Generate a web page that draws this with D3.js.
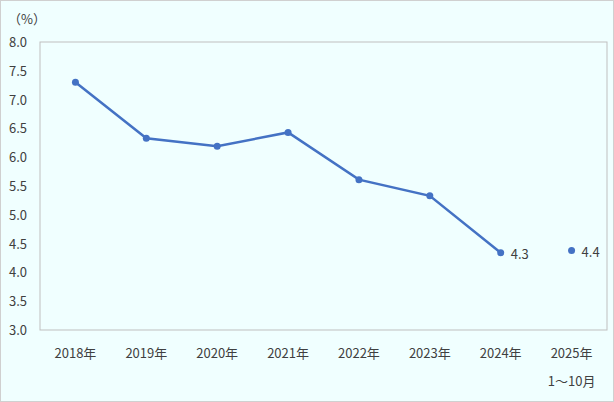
<!DOCTYPE html><html><head><meta charset="utf-8"><script src="https://cdn.jsdelivr.net/npm/d3@7"></script>
<style>body{margin:0;background:#fff}</style></head><body><svg id="c" width="614" height="402"></svg>
<script>
const categories=["2018年","2019年","2020年","2021年","2022年","2023年","2024年","2025年"];
const values=[7.3,6.33,6.19,6.43,5.61,5.33,4.34,4.38];
const yTicks=[3.0,3.5,4.0,4.5,5.0,5.5,6.0,6.5,7.0,7.5,8.0];
const labels=[null,null,null,null,null,null,"4.3","4.4"];
const svg=d3.select("#c");
svg.append("rect").attr("x",0.5).attr("y",0.5).attr("width",613).attr("height",401).attr("fill","#f0ffff").attr("stroke","#d0d0d0");
const x=d3.scaleBand().domain(categories).range([40,607]);
const y=d3.scaleLinear().domain([3,8]).range([330,42]);
const font="'Noto Sans CJK JP',sans-serif";
svg.append("rect").attr("x",40).attr("y",42).attr("width",567).attr("height",288).attr("fill","none").attr("stroke","#bfbfbf");
yTicks.forEach(t=>svg.append("text").attr("x",27).attr("y",y(t)+5).attr("text-anchor","end").attr("font-family",font).attr("font-size",13).attr("fill","#404040").text(t.toFixed(1)));
svg.append("text").attr("x",8).attr("y",24).attr("font-family",font).attr("font-size",13).attr("fill","#404040").text("（%）");
categories.forEach(c=>svg.append("text").attr("x",x(c)+x.bandwidth()/2).attr("y",358).attr("text-anchor","middle").attr("font-family",font).attr("font-size",13).attr("fill","#404040").text(c));
svg.append("text").attr("x",x("2025年")+x.bandwidth()/2).attr("y",386).attr("text-anchor","middle").attr("font-family",font).attr("font-size",13).attr("fill","#404040").text("1～10月");
const cx=c=>x(c)+x.bandwidth()/2;
const line=d3.line().x((d,i)=>cx(categories[i])).y(d=>y(d));
svg.append("path").attr("d",line(values.slice(0,7))).attr("fill","none").attr("stroke","#4472c4").attr("stroke-width",2.5);
values.forEach((v,i)=>{
 svg.append("circle").attr("cx",cx(categories[i])).attr("cy",y(v)).attr("r",3.5).attr("fill","#4472c4");
 if(labels[i]) svg.append("text").attr("x",cx(categories[i])+10).attr("y",y(v)+6).attr("font-family",font).attr("font-size",13).attr("fill","#404040").text(labels[i]);
});
</script></body></html>
